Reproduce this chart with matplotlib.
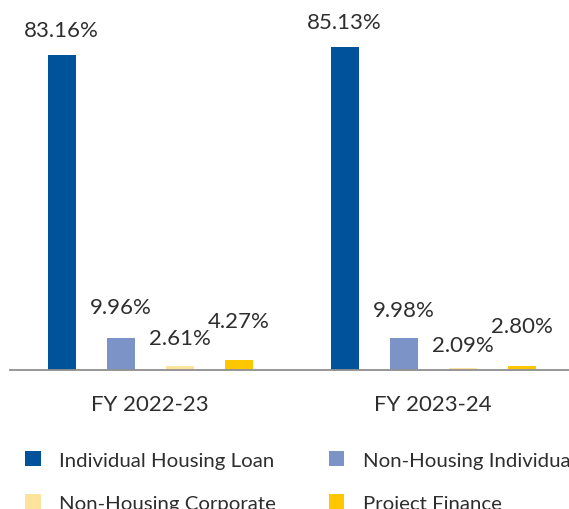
import numpy as np
import matplotlib
matplotlib.use('Agg')
import matplotlib.pyplot as plt

# data
years = ['FY 2022-23', 'FY 2023-24']
series = ['Individual Housing Loan', 'Non-Housing Individual',
          'Non-Housing Corporate', 'Project Finance']
values = [
    [83.16, 85.13],
    [9.96, 9.98],
    [2.61, 2.09],
    [4.27, 2.80],
]
colors = ['#00529b', '#7b93c6', '#fde39b', '#ffc700']

# vertical gap (pixels) between bar top and label centre, per series per year
label_dy = [[25, 25], [31, 28], [28, 23], [39, 40]]

plt.rcParams['font.family'] = ['Lato', 'DejaVu Sans']
txt_color = '#2e2e2e'

W, H = 569, 510
fig = plt.figure(figsize=(W / 100, H / 100), dpi=100)
ax = fig.add_axes([10 / W, (H - 371) / H, (W - 10) / W, 371 / H])

x = np.arange(len(years))
step = 0.2085
width = 0.099
bars = []
for i, (name, vals) in enumerate(zip(series, values)):
    b = ax.bar(x + (i - 1.5) * step, vals, width, bottom=0, color=colors[i], label=name)
    bars.append(b)
    for j, rect in enumerate(b):
        ax.annotate(f'{vals[j]:.2f}%',
                    (rect.get_x() + rect.get_width() / 2, rect.get_height()),
                    xytext=(0, label_dy[i][j]),
                    textcoords='offset pixels', ha='center', va='center',
                    fontsize=16, color=txt_color)

ax.set_xlim(-0.495, 1.48)
ax.set_ylim(1.68, 97.6)
ax.set_xticks(x)
ax.set_xticklabels(years, fontsize=16, color=txt_color)
ax.tick_params(axis='x', length=0, pad=17)
ax.set_yticks([])
for s in ['top', 'right', 'left']:
    ax.spines[s].set_visible(False)
ax.spines['bottom'].set_color('#8f8f8f')
ax.spines['bottom'].set_linewidth(1.3)

# row-major order in a 2-column legend
order = [0, 2, 1, 3]
fig.legend(handles=[bars[k] for k in order], labels=[series[k] for k in order],
           ncol=2, loc='upper left',
           bbox_to_anchor=(7 / W, 1 - 434 / H), frameon=False,
           fontsize=14.7, labelcolor=txt_color,
           handlelength=0.75, handleheight=0.75, handletextpad=0.9,
           columnspacing=2.6, labelspacing=1.25)

fig.savefig('out.png', dpi=100)
